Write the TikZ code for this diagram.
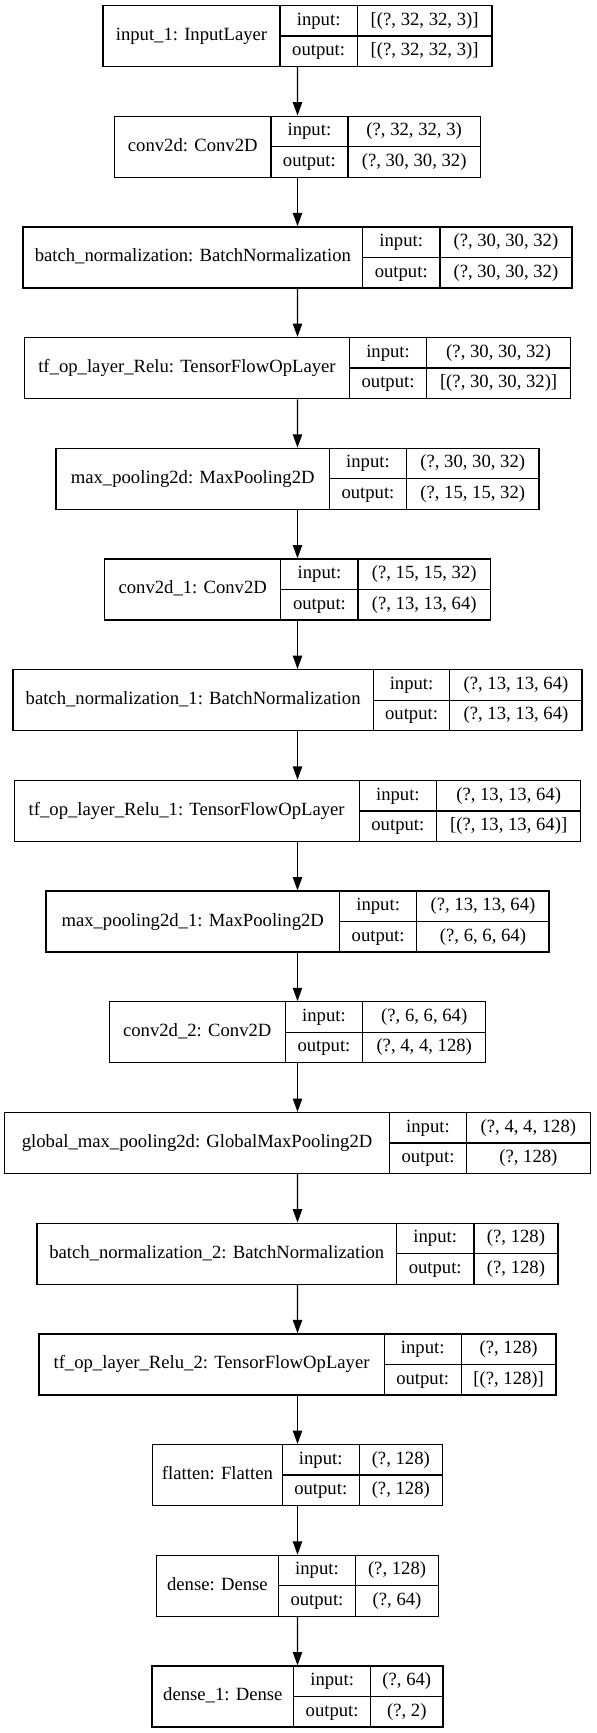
\documentclass[tikz,border=0pt]{standalone}
\usepackage{fontspec}
\setmainfont{Liberation Serif}
\usetikzlibrary{arrows.meta,fit}

% one keras layer record: id, top, half width, divider 1, divider 2, name, input, output
\newcommand{\layer}[8]{%
  \node[frame, fit={({297.5-#3},#2) ({297.5+#3},{#2+61})}] (#1) {};
  \draw[rule] (#4,#2) -- (#4,{#2+61});
  \draw[rule] (#5,#2) -- (#5,{#2+61});
  \draw[rule] (#4,{#2+30.5}) -- ({297.5+#3},{#2+30.5});
  \node[txt] (#1-name) at ({(297.5-#3+#4)/2},{#2+30.5}) {#6};
  \node[txt] (#1-inl) at ({(#4+#5)/2},{#2+15.25}) {input:};
  \node[txt] (#1-outl) at ({(#4+#5)/2},{#2+45.75}) {output:};
  \node[txt] (#1-inv) at ({(#5+297.5+#3)/2},{#2+15.25}) {#7};
  \node[txt] (#1-outv) at ({(#5+297.5+#3)/2},{#2+45.75}) {#8};
}

\begin{document}
\begin{tikzpicture}[
  x=0.75pt, y=-0.75pt,
  frame/.style={draw,rectangle,line width=1pt,inner sep=0pt},
  rule/.style={line width=1pt},
  txt/.style={inner sep=0pt,text height=0.662em,text depth=0pt,font=\fontsize{14}{17}\selectfont},
  flow/.style={-{Triangle[length=10pt,width=7pt]},line width=1pt}
]
  \useasboundingbox (0,0) rectangle (596,1733);

  % layers
  \layer{input1}{5.5}{194.5}{280}{357.3}{input\_1: InputLayer}{[(?, 32, 32, 3)]}{[(?, 32, 32, 3)]}
  \layer{conv2d}{116.2}{182.9}{270.9}{347.9}{conv2d: Conv2D}{(?, 32, 32, 3)}{(?, 30, 30, 32)}
  \layer{bn}{226.9}{274.4}{362.6}{439.9}{batch\_normalization: BatchNormalization}{(?, 30, 30, 32)}{(?, 30, 30, 32)}
  \layer{relu}{337.6}{273}{349.4}{426.7}{tf\_op\_layer\_Relu: TensorFlowOpLayer}{(?, 30, 30, 32)}{[(?, 30, 30, 32)]}
  \layer{mp}{448.3}{241.4}{329.3}{406.6}{max\_pooling2d: MaxPooling2D}{(?, 30, 30, 32)}{(?, 15, 15, 32)}
  \layer{conv2d1}{559}{192.9}{280.8}{358.1}{conv2d\_1: Conv2D}{(?, 15, 15, 32)}{(?, 13, 13, 64)}
  \layer{bn1}{669.7}{284.6}{373.3}{449.8}{batch\_normalization\_1: BatchNormalization}{(?, 13, 13, 64)}{(?, 13, 13, 64)}
  \layer{relu1}{780.4}{283.3}{359.2}{436.5}{tf\_op\_layer\_Relu\_1: TensorFlowOpLayer}{(?, 13, 13, 64)}{[(?, 13, 13, 64)]}
  \layer{mp1}{891.1}{251.6}{339.5}{416.8}{max\_pooling2d\_1: MaxPooling2D}{(?, 13, 13, 64)}{(?, 6, 6, 64)}
  \layer{conv2d2}{1001.8}{188.3}{285.3}{362.6}{conv2d\_2: Conv2D}{(?, 6, 6, 64)}{(?, 4, 4, 128)}
  \layer{gmp}{1112.5}{292.8}{389.5}{466.5}{global\_max\_pooling2d: GlobalMaxPooling2D}{(?, 4, 4, 128)}{(?, 128)}
  \layer{bn2}{1223.2}{260.5}{396.4}{474}{batch\_normalization\_2: BatchNormalization}{(?, 128)}{(?, 128)}
  \layer{relu2}{1333.9}{258.6}{384.2}{461.2}{tf\_op\_layer\_Relu\_2: TensorFlowOpLayer}{(?, 128)}{[(?, 128)]}
  \layer{flatten}{1444.6}{144.9}{282.3}{359.2}{flatten: Flatten}{(?, 128)}{(?, 128)}
  \layer{dense}{1555.3}{141.2}{278.5}{355.4}{dense: Dense}{(?, 128)}{(?, 64)}
  \layer{dense1}{1666}{145.5}{293.7}{370.6}{dense\_1: Dense}{(?, 64)}{(?, 2)}

  % flow edges
  \draw[flow] (input1) edge (conv2d);
  \draw[flow] (conv2d) edge (bn);
  \draw[flow] (bn) edge (relu);
  \draw[flow] (relu) edge (mp);
  \draw[flow] (mp) edge (conv2d1);
  \draw[flow] (conv2d1) edge (bn1);
  \draw[flow] (bn1) edge (relu1);
  \draw[flow] (relu1) edge (mp1);
  \draw[flow] (mp1) edge (conv2d2);
  \draw[flow] (conv2d2) edge (gmp);
  \draw[flow] (gmp) edge (bn2);
  \draw[flow] (bn2) edge (relu2);
  \draw[flow] (relu2) edge (flatten);
  \draw[flow] (flatten) edge (dense);
  \draw[flow] (dense) edge (dense1);

\end{tikzpicture}
\end{document}
